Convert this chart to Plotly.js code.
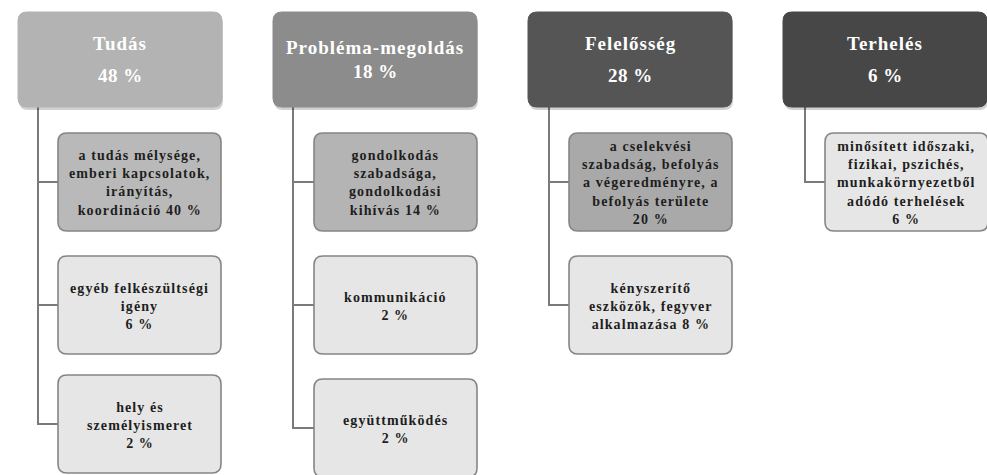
<!DOCTYPE html>
<html><head><meta charset="utf-8">
<script src="https://cdn.plot.ly/plotly-3.0.1.min.js"></script>
<style>html,body{margin:0;padding:0;background:#fff}#c{width:987px;height:475px}</style>
</head><body><div id="c"></div>
<script>
// ---- data ----
const categories = ['Tudás', 'Probléma-megoldás', 'Felelősség', 'Terhelés'];
const categoryPct = [48, 18, 28, 6];
const tudasItems = ['a tudás mélysége,<br>emberi kapcsolatok,<br>irányítás,<br>koordináció ', 'egyéb felkészültségi<br>igény<br>', 'hely és<br>személyismeret<br>'];
const tudasPct = [40, 6, 2];
const problemaItems = ['gondolkodás<br>szabadsága,<br>gondolkodási<br>kihívás ', 'kommunikáció<br>', 'együttműködés<br>'];
const problemaPct = [14, 2, 2];
const felelossegItems = ['a cselekvési<br>szabadság, befolyás<br>a végeredményre, a<br>befolyás területe<br>', 'kényszerítő<br>eszközök, fegyver<br>alkalmazása '];
const felelossegPct = [20, 8];
const terhelesItems = ['minősített időszaki,<br>fizikai, pszichés,<br>munkakörnyezetből<br>adódó terhelések<br>'];
const terhelesPct = [6];

const childItems = [tudasItems, problemaItems, felelossegItems, terhelesItems];
const childPct = [tudasPct, problemaPct, felelossegPct, terhelesPct];

// ---- layout/style ----
const headX0 = [18, 273, 528, 783], headW = 204, headY0 = 12, headY1 = 107;
const headFill = ['#b3b3b3', '#8c8c8c', '#555555', '#474747'];
const lineX = [38, 293, 549, 805];
const childX0 = [58, 314, 569, 825], childW = 163;
const rowY0 = [[133, 256, 375], [133, 256, 379], [133, 256], [133]];
const childH = 98;
const firstFill = ['#b9b9b9', '#b4b4b4', '#a9a9a9', '#e6e6e6'];
const lightFill = '#e6e6e6';
const FONT = 'Liberation Serif, DejaVu Serif, serif';

function rr(x0, y0, x1, y1, r) {
  return `M${x0 + r},${y0} L${x1 - r},${y0} Q${x1},${y0} ${x1},${y0 + r} L${x1},${y1 - r} Q${x1},${y1} ${x1 - r},${y1} L${x0 + r},${y1} Q${x0},${y1} ${x0},${y1 - r} L${x0},${y0 + r} Q${x0},${y0} ${x0 + r},${y0} Z`;
}
const sp = (t, ls) => `<span style="letter-spacing:${ls}px">${t}</span>`;

const shapes = [], annotations = [];
categories.forEach((cat, i) => {
  const x0 = headX0[i], x1 = x0 + headW;
  const rows = rowY0[i];
  const lastMid = rows[childItems[i].length - 1] + childH / 2;
  shapes.push({type: 'line', xref: 'x', yref: 'y', x0: lineX[i], x1: lineX[i], y0: headY1, y1: lastMid, line: {color: '#7a7a7a', width: 2}, layer: 'below'});
  childItems[i].forEach((lbl, j) => {
    const cy0 = rows[j], cy1 = cy0 + childH, mid = (cy0 + cy1) / 2;
    shapes.push({type: 'line', xref: 'x', yref: 'y', x0: lineX[i] - 1, x1: childX0[i], y0: mid, y1: mid, line: {color: '#7a7a7a', width: 2}, layer: 'below'});
    shapes.push({type: 'path', xref: 'x', yref: 'y', path: rr(childX0[i], cy0, childX0[i] + childW, cy1, 9),
      fillcolor: j === 0 ? firstFill[i] : lightFill, line: {color: '#858585', width: 1.6}});
    annotations.push({xref: 'x', yref: 'y', x: childX0[i] + childW / 2, y: mid + 1, showarrow: false,
      text: sp(lbl + childPct[i][j] + ' %', 1.1), align: 'center', xanchor: 'center', yanchor: 'middle',
      font: {family: FONT, size: 14, color: '#1e1e1e', weight: 'bold'}});
  });
  shapes.push({type: 'path', xref: 'x', yref: 'y', path: rr(x0 + 1, headY0 + 3, x1 + 1, headY1 + 3, 9), fillcolor: 'rgba(0,0,0,0.18)', line: {width: 0}});
  shapes.push({type: 'path', xref: 'x', yref: 'y', path: rr(x0, headY0, x1, headY1, 9), fillcolor: headFill[i], line: {color: headFill[i], width: 1}});
  const off = i === 1 ? 12 : 16;
  const mid = (headY0 + headY1) / 2;
  annotations.push({xref: 'x', yref: 'y', x: x0 + headW / 2, y: mid - off, showarrow: false,
    text: sp(cat, 1.0), xanchor: 'center', yanchor: 'middle',
    font: {family: FONT, size: 19, color: '#ffffff', weight: 'bold'}});
  annotations.push({xref: 'x', yref: 'y', x: x0 + headW / 2, y: mid + off, showarrow: false,
    text: sp(categoryPct[i] + ' %', 0.5), xanchor: 'center', yanchor: 'middle',
    font: {family: FONT, size: 19, color: '#ffffff', weight: 'bold'}});
});

Plotly.newPlot('c', [], {
  width: 987, height: 475, margin: {l: 0, r: 0, t: 0, b: 0},
  paper_bgcolor: '#ffffff', plot_bgcolor: '#ffffff',
  xaxis: {range: [0, 987], visible: false, fixedrange: true},
  yaxis: {range: [475, 0], visible: false, fixedrange: true},
  shapes, annotations, showlegend: false
}, {staticPlot: true});
</script></body></html>
